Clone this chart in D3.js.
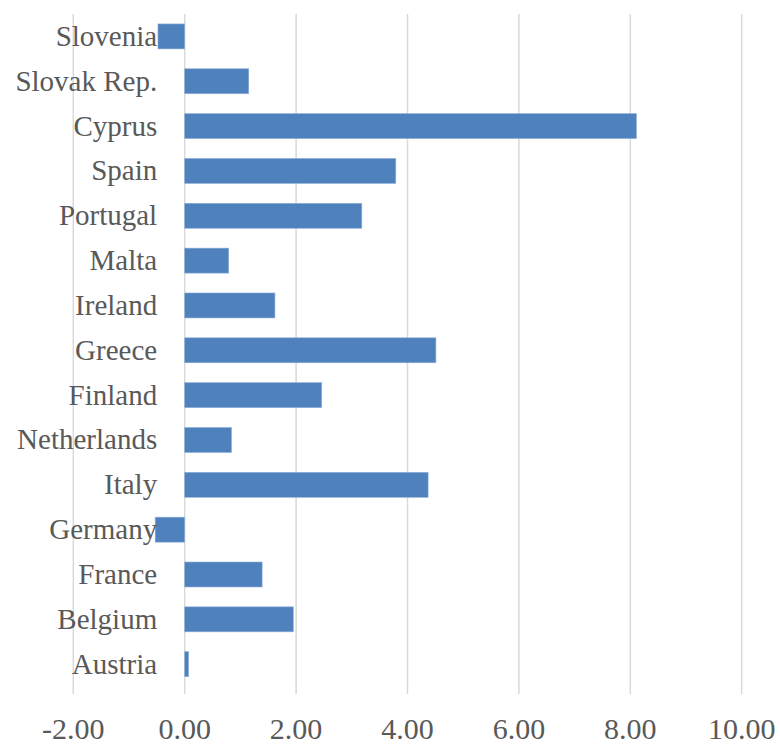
<!DOCTYPE html>
<html><head><meta charset="utf-8">
<script src="https://cdn.jsdelivr.net/npm/d3@7"></script>
<style>body{margin:0;background:#fff;}</style>
</head><body>
<svg id="c" width="780" height="747"></svg>
<script>
const categories = ["Slovenia","Slovak Rep.","Cyprus","Spain","Portugal","Malta","Ireland","Greece","Finland","Netherlands","Italy","Germany","France","Belgium","Austria"];
const values = [-0.48, 1.15, 8.11, 3.79, 3.18, 0.79, 1.62, 4.51, 2.46, 0.84, 4.37, -0.53, 1.39, 1.95, 0.07];
const tickValues = [-2, 0, 2, 4, 6, 8, 10];

const svg = d3.select("#c");
const x = d3.scaleLinear().domain([-2, 10]).range([73.3, 741.7]);
const y = d3.scaleBand().domain(categories).range([14, 686.6]).paddingInner(0.443).paddingOuter(0.2215);

svg.append("g").selectAll("line").data(tickValues).join("line")
  .attr("x1", d => x(d)).attr("x2", d => x(d))
  .attr("y1", 14).attr("y2", 694)
  .attr("stroke", "#d9d9d9").attr("stroke-width", 1.5);

svg.append("g").selectAll("rect").data(values).join("rect")
  .attr("x", d => x(Math.min(0, d)))
  .attr("width", d => Math.abs(x(d) - x(0)))
  .attr("y", (d, i) => y(categories[i]))
  .attr("height", y.bandwidth())
  .attr("fill", "#4f81bd")
  .attr("stroke", "#8eb0d9").attr("stroke-width", 0.6);

svg.append("g").selectAll("text").data(categories).join("text")
  .attr("x", x(0) - 27.5)
  .attr("y", d => y(d) + y.bandwidth() / 2 + 9.5)
  .attr("text-anchor", "end")
  .attr("font-family", "Liberation Serif, serif")
  .attr("font-size", 29)
  .attr("fill", "#595959")
  .text(d => d);

const fmt = d3.format(".2f");
svg.append("g").selectAll("text").data(tickValues).join("text")
  .attr("x", d => x(d))
  .attr("y", 739)
  .attr("text-anchor", "middle")
  .attr("font-family", "Liberation Serif, serif")
  .attr("font-size", 30)
  .attr("fill", "#595959")
  .text(d => fmt(d).replace("\u2212", "-"));
</script>
</body></html>
